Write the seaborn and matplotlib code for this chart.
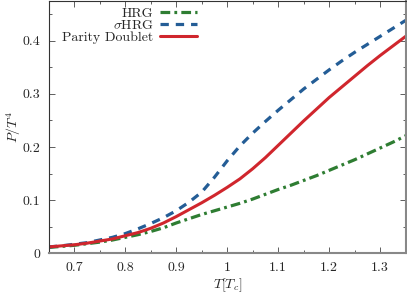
import numpy as np
import pandas as pd
import matplotlib
matplotlib.use("Agg")
import matplotlib.pyplot as plt
import seaborn as sns
from matplotlib.ticker import MultipleLocator

# temperaturas en unidades de T_c
temps = [0.650, 0.675, 0.700, 0.725, 0.750, 0.775, 0.800, 0.825, 0.850, 0.875,
         0.900, 0.925, 0.950, 0.975, 1.000, 1.025, 1.050, 1.075, 1.100, 1.125,
         1.150, 1.175, 1.200, 1.225, 1.250, 1.275, 1.300, 1.325, 1.350]

p_hrg = [0.011, 0.013, 0.015, 0.018, 0.021, 0.025, 0.030, 0.035, 0.041, 0.048,
         0.057, 0.065, 0.073, 0.080, 0.087, 0.094, 0.102, 0.111, 0.120, 0.128,
         0.137, 0.146, 0.156, 0.166, 0.176, 0.187, 0.198, 0.209, 0.221]

p_sigma_hrg = [0.012, 0.014, 0.017, 0.020, 0.025, 0.030, 0.037, 0.046, 0.056, 0.067,
               0.080, 0.096, 0.115, 0.143, 0.174, 0.202, 0.226, 0.248, 0.269, 0.289,
               0.309, 0.327, 0.345, 0.362, 0.378, 0.393, 0.408, 0.423, 0.438]

p_parity = [0.012, 0.014, 0.016, 0.019, 0.023, 0.027, 0.033, 0.039, 0.047, 0.057,
            0.069, 0.082, 0.095, 0.109, 0.124, 0.140, 0.159, 0.180, 0.203, 0.226,
            0.249, 0.271, 0.293, 0.313, 0.333, 0.353, 0.372, 0.390, 0.408]

x_ticks = [0.7, 0.8, 0.9, 1.0, 1.1, 1.2, 1.3]
x_tick_labels = ["0.7", "0.8", "0.9", "1", "1.1", "1.2", "1.3"]
y_ticks = [0.0, 0.1, 0.2, 0.3, 0.4]
y_tick_labels = ["0", "0.1", "0.2", "0.3", "0.4"]

sns.set_theme(style="ticks")
plt.rcParams["font.family"] = "serif"
plt.rcParams["font.serif"] = ["cmr10"]
plt.rcParams["mathtext.fontset"] = "cm"
plt.rcParams["axes.formatter.use_mathtext"] = True
plt.rcParams["lines.scale_dashes"] = False

df = pd.DataFrame({"T": temps, "HRG": p_hrg, "sHRG": p_sigma_hrg, "PD": p_parity})

fig = plt.figure(figsize=(4.07, 2.93), dpi=100)
ax = fig.add_axes([0.1197, 0.1355, 0.877, 0.862])

sns.lineplot(data=df, x="T", y="HRG", ax=ax, color="#2e7d32", lw=2.3,
             label="HRG")
ax.lines[-1].set_dashes((7, 3, 2, 3))
sns.lineplot(data=df, x="T", y="sHRG", ax=ax, color="#245d96", lw=2.3,
             label=r"$\sigma$HRG")
ax.lines[-1].set_dashes((6, 5))
sns.lineplot(data=df, x="T", y="PD", ax=ax, color="#d0262d", lw=2.2,
             label="Parity Doublet")

ax.set_xlim(0.65, 1.35)
ax.set_ylim(0, 0.475)
ax.set_xticks(x_ticks)
ax.set_xticklabels(x_tick_labels)
ax.set_yticks(y_ticks)
ax.set_yticklabels(y_tick_labels)
ax.xaxis.set_minor_locator(MultipleLocator(0.05))
ax.yaxis.set_minor_locator(MultipleLocator(0.05))
ax.tick_params(which="both", direction="in", top=True, right=True,
               labelsize=10, color="#444444", width=0.6)
ax.tick_params(which="major", length=4, pad=6)
ax.tick_params(which="minor", length=2.5)
for side in ["left", "top"]:
    ax.spines[side].set_color("#333333")
    ax.spines[side].set_linewidth(0.8)
for side in ["bottom", "right"]:
    ax.spines[side].set_color("#888888")
    ax.spines[side].set_linewidth(1.5)

ax.set_xlabel(r"$T[T_c]$", fontsize=10, labelpad=2)
ax.set_ylabel(r"$P/T^4$", fontsize=10, labelpad=0)

ax.legend(loc="upper left", bbox_to_anchor=(0.03, 0.985), frameon=False,
          markerfirst=False, handlelength=2.65, handletextpad=0.5,
          labelspacing=-0.07, borderpad=0.2, borderaxespad=0.0, fontsize=10)

fig.savefig("out.png", dpi=100)
